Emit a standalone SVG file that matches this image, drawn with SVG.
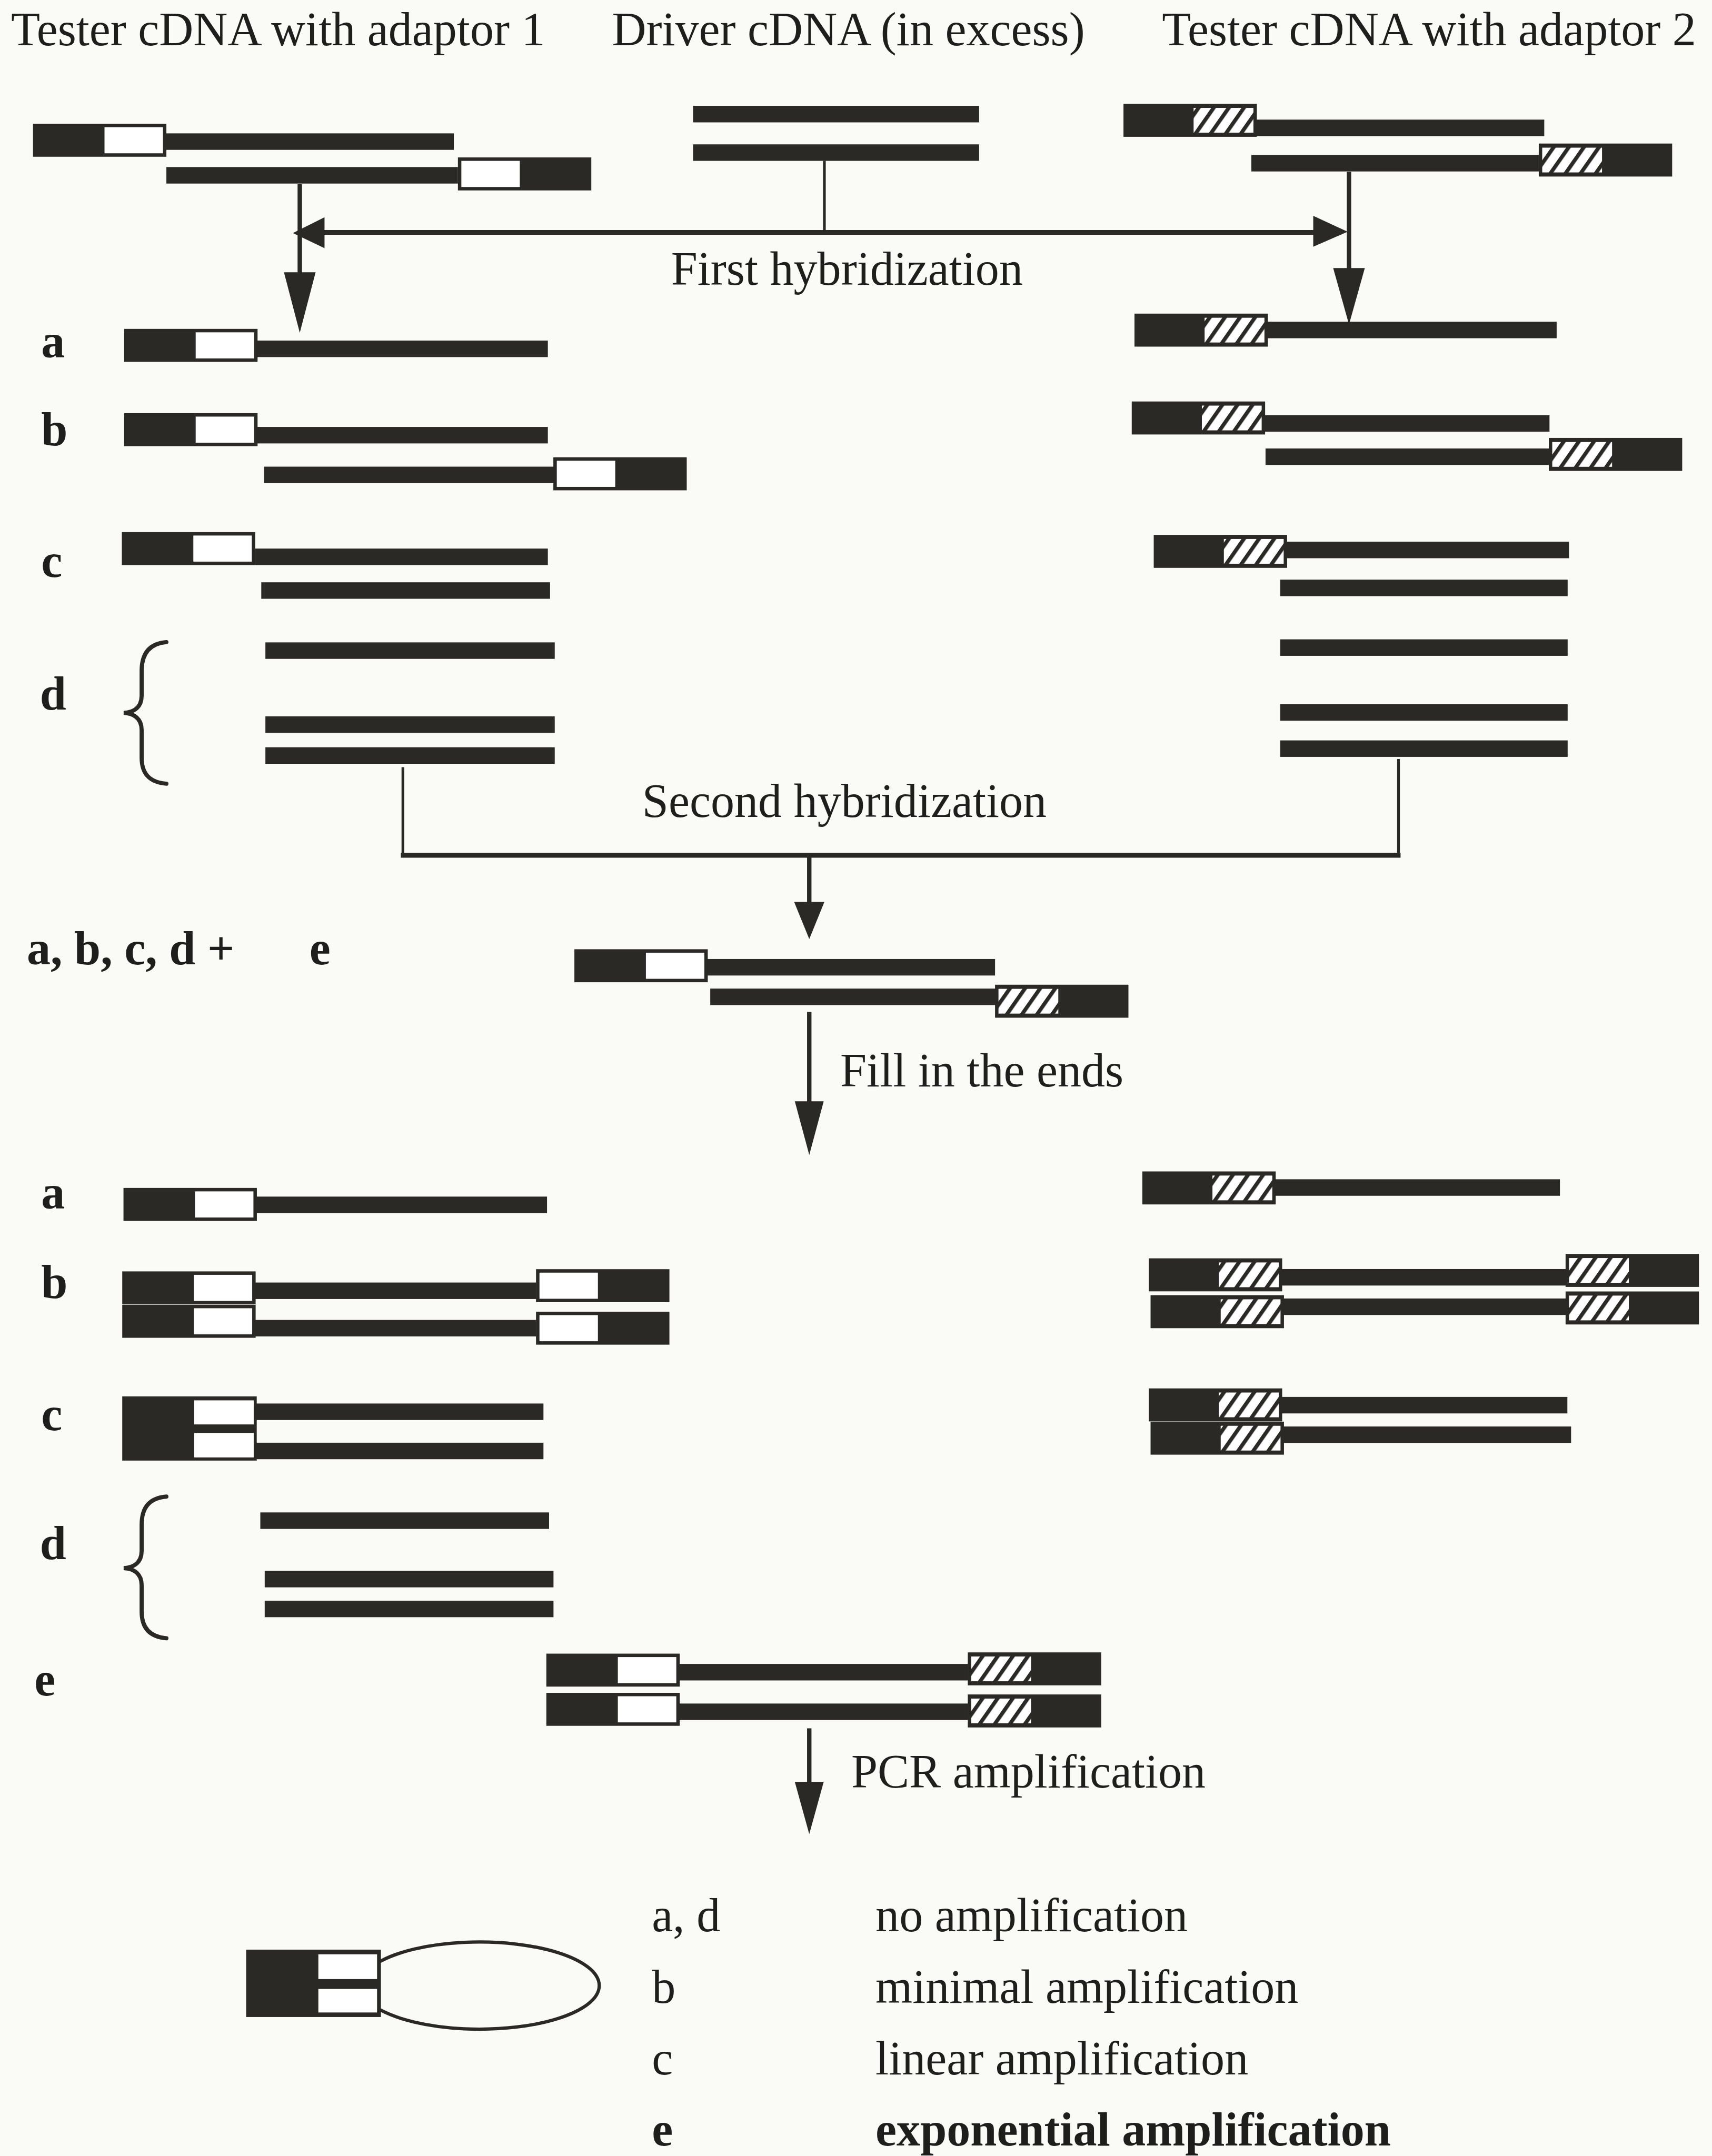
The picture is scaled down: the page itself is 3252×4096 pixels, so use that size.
<svg xmlns="http://www.w3.org/2000/svg" width="3252" height="4096" viewBox="0 0 3252 4096">
<style>
.k{fill:#2a2926}
.t{font-family:"Liberation Serif","Times New Roman",serif;font-size:34.5px;fill:#1e1e1c}
.b{font-weight:bold}
.ln{stroke:#2a2926;fill:none}
.brace{stroke:#2a2926;fill:none;stroke-width:3;stroke-linecap:round}
</style>
<defs>
<pattern id="hatch" width="9" height="9" patternUnits="userSpaceOnUse" patternTransform="rotate(35)">
<rect width="9" height="9" fill="#ffffff"/>
<rect x="0" y="0" width="2.8" height="9" fill="#2a2926"/>
</pattern>
<g id="wL"><rect width="97" height="24" class="k"/><rect x="52" y="2.5" width="42.5" height="19" fill="#ffffff"/></g>
<g id="wR"><rect width="97" height="24" class="k"/><rect x="2.5" y="2.5" width="42.5" height="19" fill="#ffffff"/></g>
<g id="hL"><rect width="97" height="24" class="k"/><rect x="51" y="3" width="43.5" height="18" fill="url(#hatch)"/></g>
<g id="hR"><rect width="97" height="24" class="k"/><rect x="2.5" y="3" width="43.5" height="18" fill="url(#hatch)"/></g>
</defs>
<rect width="3252" height="4096" fill="#fafaf7"/>
<g transform="scale(2.6121)">
<g id="titles">
<text class="t" x="8" y="33">Tester cDNA with adaptor 1</text>
<text class="t" x="445" y="33">Driver cDNA (in excess)</text>
<text class="t" x="845" y="33">Tester cDNA with adaptor 2</text>
<text class="t" x="488" y="207">First hybridization</text>
<text class="t" x="467" y="594">Second hybridization</text>
<text class="t" x="611" y="790">Fill in the ends</text>
<text class="t" x="619" y="1300">PCR amplification</text>
</g>
<g id="tester1">
<use href="#wL" x="24" y="90"/>
<rect class="k" x="119" y="97" width="211" height="12"/>
<rect class="k" x="121" y="121.5" width="212" height="12"/>
<use href="#wR" x="333" y="114.5"/>
</g>
<g id="driver">
<rect class="k" x="504" y="77" width="208" height="12"/>
<rect class="k" x="504" y="105" width="208" height="12"/>
</g>
<g id="tester2">
<use href="#hL" x="817" y="75.5"/>
<rect class="k" x="912" y="87" width="211" height="12"/>
<rect class="k" x="910" y="112.7" width="209" height="12"/>
<use href="#hR" x="1119" y="104.4"/>
</g>
<g id="hyb1-left">
<text class="t b" x="30" y="260">a</text>
<use href="#wL" x="90.3" y="239.2"/>
<rect class="k" x="187" y="247.7" width="211.4" height="12"/>
<text class="t b" x="30" y="324">b</text>
<use href="#wL" x="90.3" y="300.5"/>
<rect class="k" x="187" y="310.5" width="211.4" height="12"/>
<rect class="k" x="192" y="339.4" width="211" height="12"/>
<use href="#wR" x="402.4" y="332.6"/>
<text class="t b" x="30" y="419.5">c</text>
<use href="#wL" x="88.6" y="387"/>
<rect class="k" x="185.6" y="399" width="212.8" height="12"/>
<rect class="k" x="190" y="423.5" width="210" height="12"/>
<text class="t b" x="29" y="516">d</text>
<path class="brace" d="M121,467 C109,468 103,475 103,488 L103,506 C103,514 98,518 90,518.5 C98,519 103,523 103,531 L103,551 C103,563 109,569 121,570"/>
<rect class="k" x="193" y="467.2" width="210.4" height="12"/>
<rect class="k" x="193" y="521" width="210.4" height="12"/>
<rect class="k" x="193" y="543.5" width="210.4" height="12"/>
</g>
<g id="hyb1-right">
<use href="#hL" x="825" y="228.1"/>
<rect class="k" x="921" y="234" width="211" height="12"/>
<use href="#hL" x="823" y="292"/>
<rect class="k" x="918.5" y="302" width="208.3" height="12"/>
<rect class="k" x="920.3" y="326.2" width="206.5" height="12"/>
<use href="#hR" x="1126.3" y="318.5"/>
<use href="#hL" x="839" y="389"/>
<rect class="k" x="934.5" y="394" width="206.5" height="12"/>
<rect class="k" x="931" y="421.6" width="209" height="12"/>
<rect class="k" x="931" y="465" width="209" height="12"/>
<rect class="k" x="931" y="512.2" width="209" height="12"/>
<rect class="k" x="931" y="538.5" width="209" height="12"/>
</g>
<g id="hybrid-e">
<text class="t b" x="19.5" y="701.5">a, b, c, d +</text>
<text class="t b" x="225" y="701.5">e</text>
<use href="#wL" x="417.7" y="690.4"/>
<rect class="k" x="513" y="697.5" width="210.6" height="12"/>
<rect class="k" x="516.5" y="719" width="207.5" height="12"/>
<use href="#hR" x="723.6" y="716.2"/>
</g>
<g id="filled-left">
<text class="t b" x="30" y="879">a</text>
<use href="#wL" x="89.8" y="864"/>
<rect class="k" x="186" y="870.3" width="211.8" height="12"/>
<text class="t b" x="30" y="944">b</text>
<use href="#wL" x="88.9" y="924.7"/>
<rect class="k" x="185" y="932.8" width="205" height="12"/>
<use href="#wR" x="389.8" y="923.1"/>
<use href="#wL" x="88.9" y="949"/>
<rect class="k" x="185" y="960" width="205" height="12"/>
<use href="#wR" x="389.8" y="954"/>
<text class="t b" x="30" y="1040">c</text>
<rect class="k" x="88.9" y="1015.6" width="97.8" height="46.7"/>
<rect x="141.2" y="1018.5" width="43.3" height="17.5" fill="#ffffff"/>
<rect x="141.2" y="1042.2" width="43.3" height="17.8" fill="#ffffff"/>
<rect class="k" x="185" y="1020.8" width="210.2" height="12"/>
<rect class="k" x="185" y="1049.3" width="210.2" height="12"/>
<text class="t b" x="29" y="1134">d</text>
<path class="brace" d="M121,1088.5 C109,1089.5 103,1096 103,1109 L103,1128 C103,1136 98,1140 90,1140.5 C98,1141 103,1145 103,1153 L103,1172 C103,1184 109,1190.5 121,1191.5"/>
<rect class="k" x="189.3" y="1100" width="210" height="12"/>
<rect class="k" x="192.5" y="1142.5" width="210" height="12"/>
<rect class="k" x="192.5" y="1164.2" width="210" height="12"/>
<text class="t b" x="25" y="1233">e</text>
<use href="#wL" x="397.3" y="1202.7"/>
<rect class="k" x="493" y="1210.2" width="211" height="12"/>
<use href="#hR" x="703.8" y="1201.8"/>
<use href="#wL" x="397.3" y="1231.2"/>
<rect class="k" x="493" y="1239" width="211" height="12"/>
<use href="#hR" x="703.8" y="1232.4"/>
</g>
<g id="filled-right">
<use href="#hL" x="830.7" y="852"/>
<rect class="k" x="926" y="857.7" width="208.4" height="12"/>
<use href="#hL" x="835.4" y="915.2"/>
<rect class="k" x="931" y="923" width="208.5" height="12"/>
<use href="#hR" x="1138.5" y="912"/>
<use href="#hL" x="836.7" y="942"/>
<rect class="k" x="932.4" y="944.4" width="207" height="12"/>
<use href="#hR" x="1138.5" y="939.3"/>
<use href="#hL" x="835.4" y="1009.8"/>
<rect class="k" x="931" y="1016" width="208.8" height="12"/>
<use href="#hL" x="836.7" y="1034"/>
<rect class="k" x="932.5" y="1037.5" width="210" height="12"/>
</g>
<g id="loop">
<rect class="k" x="179" y="1418" width="98" height="49"/>
<rect x="231.5" y="1421.4" width="42.7" height="18" fill="#ffffff"/>
<rect x="231.5" y="1446.6" width="42.7" height="17.1" fill="#ffffff"/>
<path class="ln" stroke-width="2.4" d="M276.5,1426.5 A87,31.7 0 1 1 276.5,1461.8"/>
</g>
<g id="legend">
<text class="t" x="474" y="1404.7">a, d</text>
<text class="t" x="636.7" y="1404.7">no amplification</text>
<text class="t" x="474" y="1456.8">b</text>
<text class="t" x="636.7" y="1456.8">minimal amplification</text>
<text class="t" x="474" y="1508.8">c</text>
<text class="t" x="636.7" y="1508.8">linear amplification</text>
<text class="t b" x="474" y="1560.6">e</text>
<text class="t b" x="636.7" y="1560.6">exponential amplification</text>
</g>
<g id="connectors">
<line class="ln" stroke-width="3.2" x1="218" y1="134" x2="218" y2="200"/>
<polygon class="k" points="206.5,198 229.5,198 218,242"/>
<line class="ln" stroke-width="3.2" x1="981" y1="125" x2="981" y2="197"/>
<polygon class="k" points="969.5,195 992.5,195 981,236"/>
<line class="ln" stroke-width="3.4" x1="232" y1="169" x2="958" y2="169"/>
<polygon class="k" points="213,169.5 236,158 236,180.5"/>
<polygon class="k" points="980,168.5 955,157 955,179.5"/>
<line class="ln" stroke-width="2" x1="599.5" y1="117" x2="599.5" y2="168"/>
<line class="ln" stroke-width="2" x1="293" y1="558" x2="293" y2="622"/>
<line class="ln" stroke-width="2" x1="1017" y1="552" x2="1017" y2="622"/>
<line class="ln" stroke-width="3.6" x1="291.5" y1="622" x2="1018.5" y2="622"/>
<line class="ln" stroke-width="3.2" x1="588.5" y1="622" x2="588.5" y2="660"/>
<polygon class="k" points="577.5,656 599.5,656 588.5,683"/>
<line class="ln" stroke-width="3.2" x1="588.5" y1="736" x2="588.5" y2="805"/>
<polygon class="k" points="578,801 599,801 588.5,840"/>
<line class="ln" stroke-width="3.2" x1="588.5" y1="1257" x2="588.5" y2="1300"/>
<polygon class="k" points="578,1296 599,1296 588.5,1334"/>
</g>
</g>
</svg>
